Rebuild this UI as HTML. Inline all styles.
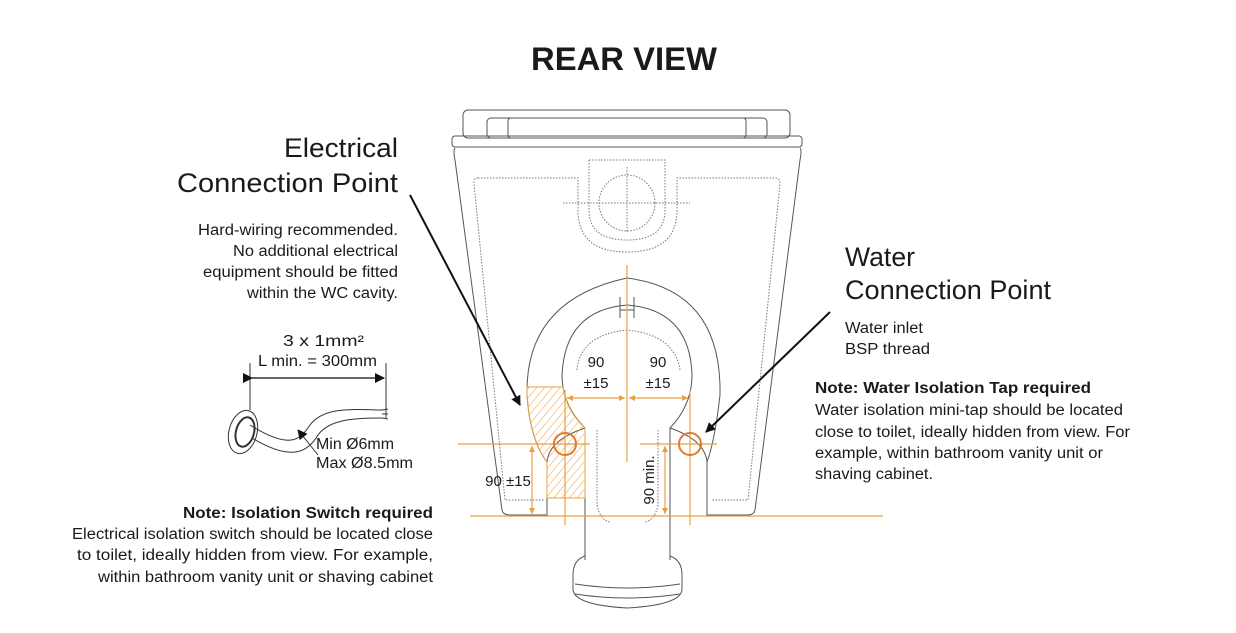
<!DOCTYPE html>
<html><head><meta charset="utf-8"><style>
body{margin:0;background:#fff}
svg{display:block}
text{font-family:"Liberation Sans",sans-serif;fill:#1a1a1a}
</style></head><body>
<svg width="1236" height="633" viewBox="0 0 1236 633" xmlns="http://www.w3.org/2000/svg">
<defs>
<pattern id="h" width="6" height="6" patternUnits="userSpaceOnUse" patternTransform="rotate(40)">
<line x1="0" y1="0" x2="0" y2="6" stroke="#e8a040" stroke-width="1"/></pattern>
<marker id="ab" markerWidth="10" markerHeight="10" refX="9" refY="5" orient="auto" markerUnits="userSpaceOnUse"><path d="M0,0 L10,5 L0,10 z" fill="#111"/></marker>
<marker id="ao" markerWidth="6" markerHeight="6" refX="6" refY="3" orient="auto" markerUnits="userSpaceOnUse"><path d="M0,0 L6,3 L0,6 z" fill="#e8a040"/></marker>
<marker id="ao2" markerWidth="6" markerHeight="6" refX="0" refY="3" orient="auto" markerUnits="userSpaceOnUse"><path d="M6,0 L0,3 L6,6 z" fill="#e8a040"/></marker>
</defs>
<text x="531" y="70" font-size="32" font-weight="bold" fill="#111" textLength="186" lengthAdjust="spacingAndGlyphs">REAR VIEW</text>

<!-- toilet -->
<g fill="none" stroke="#555" stroke-width="1">
<rect x="463" y="110" width="327" height="28" rx="5"/>
<rect x="487" y="118" width="280" height="20" rx="4"/>
<rect x="508" y="118" width="238" height="20" rx="3"/>
<rect x="452" y="136" width="350" height="11" rx="3"/>
<path d="M455,148 Q453,150 455,160 L502,510 Q503,515 510,515 L547,515 L547,462 Q549,440 585,428 L585,560"/>
<path d="M800,148 Q802,150 800,160 L755,510 Q754,515 747,515 L707,515 L707,462 Q705,440 670,428 L670,560"/>
<path d="M527,395 Q525,300 627,278 Q722,290 720,395"/>
<path d="M585,428 Q562,405 562,375 Q565,310 627,305 Q690,310 692,375 Q692,405 670,428"/>
<path d="M527,395 Q530,440 547,462"/>
<path d="M720,395 Q715,440 707,462"/>
<line x1="620" y1="297" x2="620" y2="318"/><line x1="634" y1="297" x2="634" y2="318"/><line x1="620" y1="310" x2="634" y2="310"/>
<path d="M585,556 Q573,560 573,575 L573,590 Q575,605 627,608 Q680,605 682,590 L682,575 Q682,560 670,556"/>
<path d="M575,584 Q627,592 680,584"/><path d="M575,594 Q627,602 680,594"/>
</g>
<g fill="none" stroke="#777" stroke-width="1" stroke-dasharray="1.5,1.5">
<path d="M478,178 L578,178 L578,210 Q578,252 627,252 Q677,252 677,210 L677,178 L775,178 Q780,178 780,184 L748,500 L712,500"/>
<path d="M478,178 Q473,178 474,184 L505,500 L545,500"/>
<path d="M589,160 L665,160 L665,210 Q665,240 627,240 Q589,240 589,210 Z"/>
<circle cx="627" cy="203" r="28"/>
<line x1="563" y1="203" x2="690" y2="203"/><line x1="627" y1="167" x2="627" y2="233"/>
<path d="M597,430 L597,505 Q600,520 610,522"/><path d="M658,430 L658,505 Q655,520 645,522"/>
<path d="M577,370 Q580,335 627,330 Q675,335 680,370"/>
</g>

<!-- orange -->
<path d="M527,387 L563,387 Q566,410 585,428 L585,498 L547,498 L547,462 Q530,440 527,395 Z" fill="url(#h)" stroke="#e8a040" stroke-width="1"/>
<g stroke="#e8a040" stroke-width="1.2" fill="none">
<line x1="458" y1="444" x2="590" y2="444"/>
<line x1="640" y1="444" x2="717" y2="444"/>
<line x1="470" y1="516" x2="883" y2="516"/>
<line x1="627" y1="265" x2="627" y2="462"/>
<line x1="565" y1="390" x2="565" y2="525"/>
<line x1="690" y1="390" x2="690" y2="525"/>
<line x1="567" y1="398" x2="625" y2="398" marker-start="url(#ao2)" marker-end="url(#ao)"/>
<line x1="629" y1="398" x2="688" y2="398" marker-start="url(#ao2)" marker-end="url(#ao)"/>
<line x1="532" y1="446" x2="532" y2="514" marker-start="url(#ao2)" marker-end="url(#ao)"/>
<line x1="665" y1="446" x2="665" y2="514" marker-start="url(#ao2)" marker-end="url(#ao)"/>
</g>
<circle cx="565" cy="444" r="11" fill="none" stroke="#e07a30" stroke-width="2"/>
<circle cx="690" cy="444" r="11" fill="none" stroke="#e07a30" stroke-width="2"/>
<g font-size="15" text-anchor="middle">
<text x="596" y="367">90</text><text x="596" y="388">±15</text>
<text x="658" y="367">90</text><text x="658" y="388">±15</text>
<text x="508" y="486">90 ±15</text>
<text transform="translate(654,480) rotate(-90)">90 min.</text>
</g>

<!-- arrows -->
<line x1="410" y1="195" x2="520" y2="405" stroke="#111" stroke-width="2" marker-end="url(#ab)"/>
<line x1="830" y1="312" x2="706" y2="432" stroke="#111" stroke-width="2" marker-end="url(#ab)"/>

<!-- left texts -->
<g lengthAdjust="spacingAndGlyphs">
<text x="284" y="157" font-size="27" textLength="114" lengthAdjust="spacingAndGlyphs">Electrical</text>
<text x="177" y="192" font-size="27" textLength="221" lengthAdjust="spacingAndGlyphs">Connection Point</text>
<text x="198" y="235" font-size="15.5" textLength="200" lengthAdjust="spacingAndGlyphs">Hard-wiring recommended.</text>
<text x="233" y="256" font-size="15.5" textLength="165" lengthAdjust="spacingAndGlyphs">No additional electrical</text>
<text x="203" y="277" font-size="15.5" textLength="195" lengthAdjust="spacingAndGlyphs">equipment should be fitted</text>
<text x="247" y="298" font-size="15.5" textLength="151" lengthAdjust="spacingAndGlyphs">within the WC cavity.</text>
<text x="183" y="518" font-size="15.5" font-weight="bold" textLength="250" lengthAdjust="spacingAndGlyphs">Note: Isolation Switch required</text>
<text x="72" y="539" font-size="15.5" textLength="361" lengthAdjust="spacingAndGlyphs">Electrical isolation switch should be located close</text>
<text x="77" y="560" font-size="15.5" textLength="356" lengthAdjust="spacingAndGlyphs">to toilet, ideally hidden from view. For example,</text>
<text x="98" y="582" font-size="15.5" textLength="335" lengthAdjust="spacingAndGlyphs">within bathroom vanity unit or shaving cabinet</text>

<text x="845" y="266" font-size="27" textLength="70" lengthAdjust="spacingAndGlyphs">Water</text>
<text x="845" y="299" font-size="27" textLength="206" lengthAdjust="spacingAndGlyphs">Connection Point</text>
<text x="845" y="333" font-size="15.5" textLength="78" lengthAdjust="spacingAndGlyphs">Water inlet</text>
<text x="845" y="354" font-size="15.5" textLength="85" lengthAdjust="spacingAndGlyphs">BSP thread</text>
<text x="815" y="393" font-size="15.5" font-weight="bold" textLength="276" lengthAdjust="spacingAndGlyphs">Note: Water Isolation Tap required</text>
<text x="815" y="415" font-size="15.5" textLength="308" lengthAdjust="spacingAndGlyphs">Water isolation mini-tap should be located</text>
<text x="815" y="437" font-size="15.5" textLength="315" lengthAdjust="spacingAndGlyphs">close to toilet, ideally hidden from view. For</text>
<text x="815" y="458" font-size="15.5" textLength="288" lengthAdjust="spacingAndGlyphs">example, within bathroom vanity unit or</text>
<text x="815" y="479" font-size="15.5" textLength="118" lengthAdjust="spacingAndGlyphs">shaving cabinet.</text>

<text x="283" y="346" font-size="15.5" textLength="81" lengthAdjust="spacingAndGlyphs">3 x 1mm²</text>
<text x="258" y="366" font-size="15.5" textLength="119" lengthAdjust="spacingAndGlyphs">L min. = 300mm</text>
<text x="316" y="449" font-size="15.5" textLength="78" lengthAdjust="spacingAndGlyphs">Min Ø6mm</text>
<text x="316" y="468" font-size="15.5" textLength="97" lengthAdjust="spacingAndGlyphs">Max Ø8.5mm</text>
</g>

<!-- cable -->
<g stroke="#333" fill="none" stroke-width="1">
<line x1="250" y1="363" x2="250" y2="410"/><line x1="386" y1="363" x2="386" y2="418"/>
<line x1="252" y1="378" x2="384" y2="378" stroke-width="1.5" marker-start="url(#ab)" marker-end="url(#ab)"/>
<ellipse cx="243" cy="432" rx="14" ry="22" transform="rotate(15 243 432)"/>
<ellipse cx="245" cy="432" rx="9" ry="15" transform="rotate(15 245 432)" stroke-width="2"/>
<path d="M250,425 C290,450 300,440 310,425 C325,405 360,410 382,410"/>
<path d="M252,438 C292,462 308,452 318,435 C330,418 360,418 382,418"/>
<line x1="382" y1="410" x2="388" y2="409"/><line x1="382" y1="414" x2="388" y2="414"/><line x1="382" y1="418" x2="388" y2="419"/>
<line x1="318" y1="455" x2="298" y2="430" marker-end="url(#ab)"/>
</g>
</svg>
</body></html>
